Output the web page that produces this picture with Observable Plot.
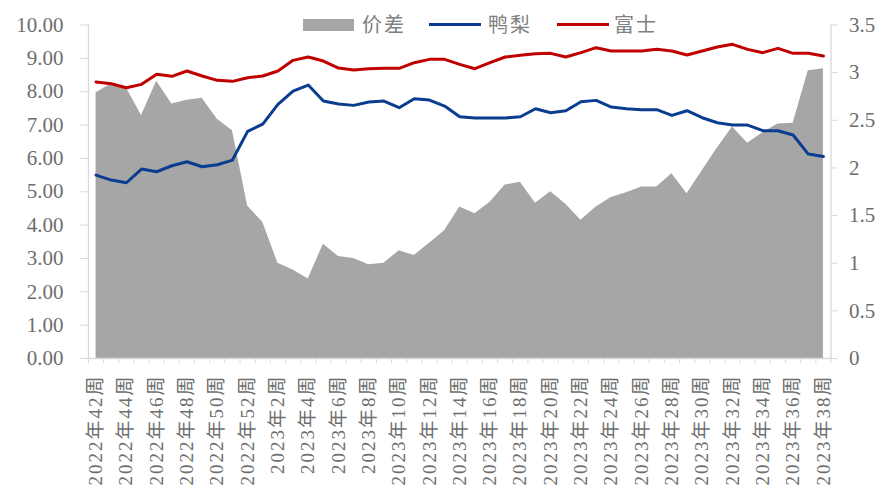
<!DOCTYPE html>
<html>
<head>
<meta charset="utf-8">
<script src="https://cdn.jsdelivr.net/npm/d3@7"></script>
<script src="https://cdn.jsdelivr.net/npm/@observablehq/plot@0.6"></script>
<style>
  html, body { margin: 0; padding: 0; background: #fff; }
  #wrap { position: relative; width: 881px; height: 491px; overflow: hidden; }
  #legend { position: absolute; left: 0; top: 0; width: 881px; height: 50px; pointer-events: none; }
  .lg-key { position: absolute; }
  .lg-text { position: absolute; top: 10px; font: 20px "Noto Sans CJK SC", sans-serif; color: #808080; line-height: 28px; letter-spacing: 2px; }
  svg text { font-family: "Liberation Serif", "Noto Sans CJK SC", serif; }
  g[aria-label="x-axis tick label"] text { letter-spacing: 2px; }
</style>
</head>
<body>
<div id="wrap">
  <div id="chart"></div>
  <div id="legend"></div>
</div>
<script>
const weeks = [
  "2022年42周","2022年43周","2022年44周","2022年45周","2022年46周","2022年47周","2022年48周",
  "2022年49周","2022年50周","2022年51周","2022年52周",
  "2023年1周","2023年2周","2023年3周","2023年4周","2023年5周","2023年6周","2023年7周","2023年8周",
  "2023年9周","2023年10周","2023年11周","2023年12周","2023年13周","2023年14周","2023年15周",
  "2023年16周","2023年17周","2023年18周","2023年19周","2023年20周","2023年21周","2023年22周",
  "2023年23周","2023年24周","2023年25周","2023年26周","2023年27周","2023年28周","2023年29周",
  "2023年30周","2023年31周","2023年32周","2023年33周","2023年34周","2023年35周","2023年36周",
  "2023年37周","2023年38周"
];
// 鸭梨 (left axis)
const yali = [5.50,5.35,5.27,5.68,5.60,5.78,5.90,5.75,5.81,5.95,6.81,7.03,7.62,8.02,8.20,7.72,7.63,
  7.59,7.69,7.72,7.52,7.79,7.75,7.57,7.25,7.21,7.21,7.21,7.25,7.49,7.37,7.43,7.70,
  7.74,7.54,7.49,7.46,7.46,7.29,7.43,7.22,7.07,7.00,7.00,6.83,6.83,6.70,6.13,6.06];
// 富士 (left axis)
const fuji = [8.29,8.24,8.12,8.22,8.52,8.46,8.62,8.47,8.34,8.31,8.42,8.47,8.62,8.94,9.04,8.92,8.71,
  8.65,8.69,8.70,8.70,8.87,8.97,8.97,8.82,8.69,8.87,9.04,9.09,9.14,9.15,9.04,9.17,
  9.32,9.22,9.22,9.22,9.27,9.22,9.10,9.22,9.34,9.42,9.27,9.17,9.30,9.15,9.15,9.07];
// 价差 (right axis)
const spread = [2.79,2.88,2.84,2.55,2.91,2.67,2.71,2.73,2.51,2.39,1.60,1.43,1.00,0.93,0.835,1.20,1.07,
  1.05,0.985,1.00,1.13,1.08,1.21,1.34,1.59,1.52,1.64,1.82,1.85,1.63,1.75,1.62,1.45,
  1.59,1.69,1.74,1.80,1.80,1.94,1.73,1.97,2.21,2.43,2.26,2.37,2.46,2.47,3.02,3.04];

const leftTicks = [0,1,2,3,4,5,6,7,8,9,10];
const rightTicks = [0,0.5,1,1.5,2,2.5,3,3.5];
const leftMax = 10, rightMax = 3.5;
const toLeft = v => v * leftMax / rightMax;

const rows = weeks.map((w, i) => ({i, week: w, yali: yali[i], fuji: fuji[i], spread: spread[i]}));
const labelIdx = d3.range(0, weeks.length, 2);
const boundaries = d3.range(-0.5, weeks.length, 1);

const axisColor = "#D9D9D9";
const textColor = "#6e6e6e";

const chart = Plot.plot({
  width: 881,
  height: 491,
  marginLeft: 88,
  marginRight: 50.5,
  marginTop: 24.5,
  marginBottom: 133,
  style: {fontSize: "21px", color: textColor, background: "white"},
  x: {type: "linear", domain: [-0.5, weeks.length - 0.5]},
  y: {domain: [0, leftMax]},
  marks: [
    Plot.areaY(rows, {x: "i", y: d => toLeft(d.spread), fill: "#A6A6A6"}),
    Plot.lineY(rows, {x: "i", y: "yali", stroke: "#0A3D8F", strokeWidth: 3, strokeLinejoin: "round"}),
    Plot.lineY(rows, {x: "i", y: "fuji", stroke: "#C00000", strokeWidth: 3, strokeLinejoin: "round"}),
    Plot.frame({anchor: "left", stroke: axisColor, strokeWidth: 1.3}),
    Plot.frame({anchor: "right", stroke: axisColor, strokeWidth: 1.3}),
    Plot.frame({anchor: "bottom", stroke: axisColor, strokeWidth: 1.3}),
    Plot.axisY({anchor: "left", ticks: leftTicks, tickFormat: d => d.toFixed(2), tickSize: 8, tickPadding: 17,
      stroke: axisColor, fill: textColor, fontSize: 21, label: null}),
    Plot.axisY({anchor: "right", ticks: rightTicks.map(toLeft),
      tickFormat: d => String(Math.round(d * rightMax / leftMax * 10) / 10),
      tickSize: 6, tickPadding: 12, stroke: axisColor, fill: textColor, fontSize: 21, label: null}),
    Plot.axisX({anchor: "bottom", ticks: boundaries, tickFormat: () => "", tickSize: 5, stroke: axisColor, label: null}),
    Plot.axisX({anchor: "bottom", ticks: labelIdx, tickFormat: i => weeks[i], tickRotate: -90, tickSize: 0,
      tickPadding: 16, fill: textColor, fontSize: 19, label: null})
  ]
});
document.getElementById("chart").appendChild(chart);

// legend
const legendItems = [
  {name: "价差", kind: "area", color: "#A6A6A6", keyLeft: 303, textLeft: 362},
  {name: "鸭梨", kind: "line", color: "#0A3D8F", keyLeft: 429, textLeft: 488},
  {name: "富士", kind: "line", color: "#C00000", keyLeft: 557, textLeft: 614}
];
const lg = document.getElementById("legend");
for (const it of legendItems) {
  const k = document.createElement("div");
  k.className = "lg-key";
  k.style.left = it.keyLeft + "px";
  k.style.width = (it.kind === "area" ? 51 : 52) + "px";
  if (it.kind === "area") { k.style.top = "19px"; k.style.height = "12px"; }
  else { k.style.top = "23px"; k.style.height = "3px"; }
  k.style.background = it.color;
  lg.appendChild(k);
  const t = document.createElement("div");
  t.className = "lg-text";
  t.style.left = it.textLeft + "px";
  t.textContent = it.name;
  lg.appendChild(t);
}
</script>
</body>
</html>
